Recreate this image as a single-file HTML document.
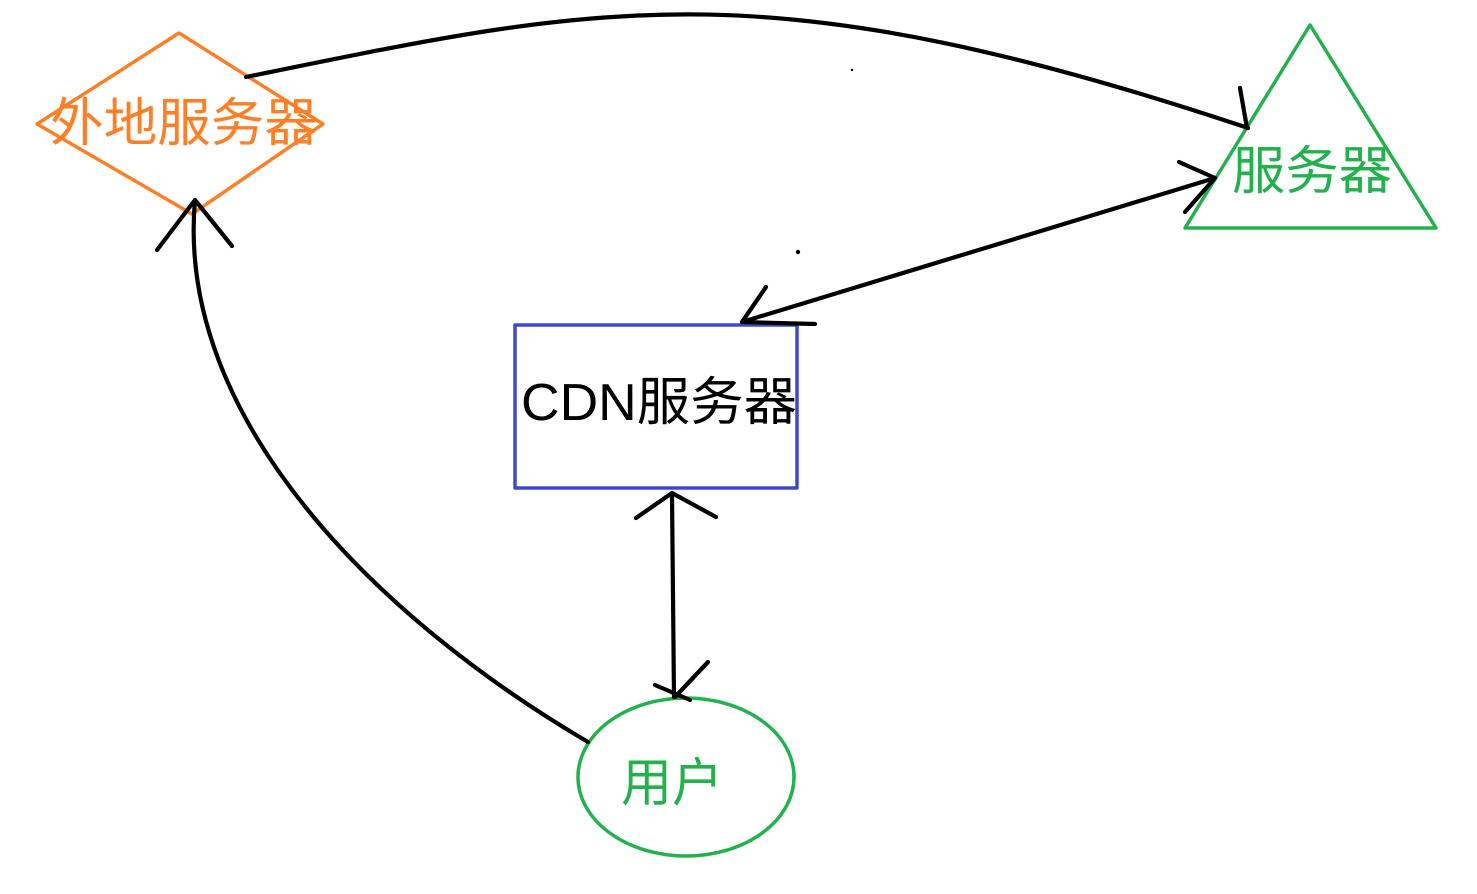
<!DOCTYPE html>
<html><head><meta charset="utf-8"><style>
html,body{margin:0;padding:0;background:#fff;width:1477px;height:894px;overflow:hidden}
svg{display:block}
text{font-family:"Liberation Sans","Noto Sans CJK SC",sans-serif;font-size:52px}
</style></head><body>
<svg width="1477" height="894" viewBox="0 0 1477 894">
<g fill="none" stroke-linecap="round" stroke-linejoin="round">
<polygon points="179,33 323,124 192,214 37,124" stroke="#ff7f27" stroke-width="3.5"/>
<polygon points="1310,25 1436,228 1185,228" stroke="#22b14c" stroke-width="3.5"/>
<rect x="515" y="325" width="282" height="163" stroke="#3f48cc" stroke-width="3.5"/>
<ellipse cx="686" cy="777" rx="108" ry="79" stroke="#22b14c" stroke-width="3.5"/>
<g stroke="#000" stroke-width="4.2">
<path d="M246,77 C600,5 760,-35 1248,128"/>
<path d="M1240,88 L1247,128"/>
<path d="M1215,178 L742,322"/>
<path d="M1179,162 L1215,178 L1185,212"/>
<path d="M766,287 L742,322 L815,324"/>
<path d="M672,495 L674,697"/>
<path d="M636,518 L672,493 L716,517"/>
<path d="M655,685 L690,700 M675,697 L708,662"/>
<path d="M588,742 C380,620 175,420 195,200"/>
<path d="M157,250 L195,200 L232,246"/>
</g>
<circle cx="852" cy="70" r="1.2" fill="#000"/>
<circle cx="798" cy="252" r="2.2" fill="#000"/>
</g>
<text x="50" y="141" fill="#ff7f27" textLength="268" lengthAdjust="spacingAndGlyphs">外地服务器</text>
<text x="1232" y="189" fill="#22b14c" textLength="160" lengthAdjust="spacingAndGlyphs">服务器</text>
<text x="521" y="420" fill="#000" textLength="276" lengthAdjust="spacingAndGlyphs">CDN服务器</text>
<text x="621" y="801" fill="#22b14c" textLength="102" lengthAdjust="spacingAndGlyphs">用户</text>
</svg>
</body></html>
